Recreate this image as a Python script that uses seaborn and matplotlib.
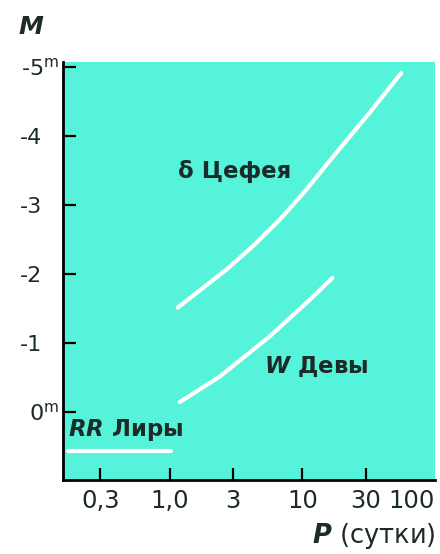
import matplotlib
matplotlib.use("Agg")
import matplotlib.pyplot as plt
import seaborn as sns
import pandas as pd

# period (days) / absolute magnitude
cep_period = [1.15, 2.67, 4.23, 6.71, 10.7, 17.4, 31.9, 55.5]
cep_mag = [-1.51, -2.06, -2.40, -2.78, -3.22, -3.72, -4.33, -4.91]
wvir_period = [1.19, 2.38, 5.65, 11.3, 16.8]
wvir_mag = [-0.14, -0.51, -1.09, -1.62, -1.94]
rr_period = [0.171, 1.03]
rr_mag = [0.565, 0.565]

x_ticks = [0.3, 1, 3, 10, 30, 100]
x_labels = ["0,3", "1,0", "3", "10", "30", "100"]
y_ticks = [-5, -4, -3, -2, -1, 0]
y_labels = ["", "-4", "-3", "-2", "-1", ""]

teal = "#55f4da"
ink = "#1c2b28"

sns.set_theme(style="ticks")
plt.rcParams["font.family"] = ["DejaVu Sans"]
plt.rcParams["mathtext.fontset"] = "custom"
plt.rcParams["mathtext.rm"] = "DejaVu Sans"
plt.rcParams["mathtext.it"] = "DejaVu Sans:italic:bold"
plt.rcParams["mathtext.bf"] = "DejaVu Sans:bold"

df = pd.concat([
    pd.DataFrame({"P": cep_period, "M": cep_mag, "type": "cep"}),
    pd.DataFrame({"P": wvir_period, "M": wvir_mag, "type": "wvir"}),
    pd.DataFrame({"P": rr_period, "M": rr_mag, "type": "rr"}),
])

fig, ax = plt.subplots(figsize=(4.4, 5.54), dpi=100)
fig.subplots_adjust(left=0.143, right=0.989, bottom=0.134, top=0.888)
ax.set_facecolor(teal)

sns.lineplot(data=df, x="P", y="M", hue="type", units="type", estimator=None,
             sort=False, palette=["white"] * 3, linewidth=3, legend=False,
             solid_capstyle="round", ax=ax)

ax.set_xscale("log")
ax.set_xlim(0.157, 100)
ax.set_ylim(0.985, -5.07)
ax.set_xticks(x_ticks)
ax.set_xticklabels(x_labels)
ax.minorticks_off()
ax.set_yticks(y_ticks)
ax.set_yticklabels(y_labels)
ax.xaxis.get_ticklabels()[-1].set_horizontalalignment("right")
ax.xaxis.get_major_ticks()[-1].tick1line.set_visible(False)
ax.tick_params(direction="in", length=9, width=1.6, colors="black",
               labelcolor=ink)
ax.tick_params(axis="y", pad=15, labelsize=16)
ax.tick_params(axis="x", pad=7, labelsize=17.5)
ax.set_xlabel("")
ax.set_ylabel("")
sns.despine(ax=ax)
for s in ("left", "bottom"):
    ax.spines[s].set_linewidth(2)
    ax.spines[s].set_color("black")

# -5^m and 0^m labels
for v, t in ((-5, "-5$^{\\mathrm{m}}$"), (0, "0$^{\\mathrm{m}}$")):
    ax.annotate(t, xy=(0, v), xycoords=("axes fraction", "data"),
                xytext=(-3, 0), textcoords="offset points", fontsize=16,
                color=ink, ha="right", va="center_baseline")

lab = dict(fontsize=16.5, color=ink, fontweight="bold", va="center")
ax.text(1.15, -3.48, "δ Цефея", ha="left", **lab)
ax.text(5.18, -0.65, "$\\mathit{W}$ Девы", ha="left", **lab)
ax.text(0.171, 0.26, "$\\mathit{RR}$ Лиры", ha="left", **lab)

fig.text(0.07, 0.951, "$\\mathit{M}$", fontsize=18, color=ink, ha="center", va="center")
fig.text(0.989, 0.032, "$\\mathit{P}$ (сутки)", fontsize=18.5, color=ink,
         ha="right", va="center")

fig.savefig("out.png", dpi=100)
